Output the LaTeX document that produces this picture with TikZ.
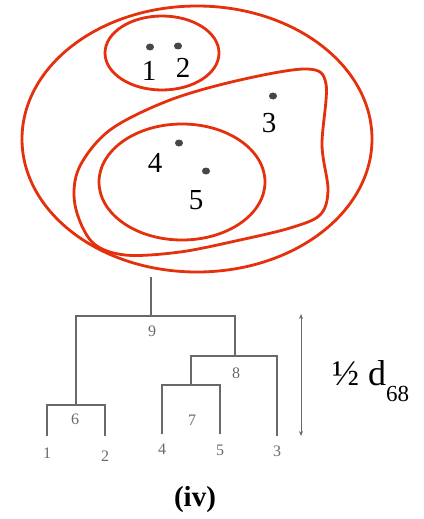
\documentclass[tikz,border=0pt]{standalone}
\usepackage{fontspec}
\setmainfont{Liberation Serif}
\usetikzlibrary{arrows.meta,shapes.geometric}
\definecolor{clusred}{RGB}{228,48,12}
\definecolor{dendgray}{RGB}{105,105,105}

\begin{document}
\begin{tikzpicture}[
    x=1pt, y=-1pt,
    clus/.style={draw=clusred, line width=2.8pt},
    pt/.style={ellipse, fill=black!72, minimum width=8pt, minimum height=7pt, inner sep=0pt},
    ptlab/.style={font=\fontsize{29}{29}\selectfont, inner sep=0pt},
    tree/.style={draw=dendgray, line width=1.3pt},
    tlab/.style={font=\fontsize{16}{16}\selectfont, text=dendgray, inner sep=0pt},
]
\useasboundingbox (0,0) rectangle (423,519);
% clusters
\draw[clus] (197,139) ellipse [x radius=175pt, y radius=133pt];
\draw[clus] (162,53) ellipse [x radius=57pt, y radius=37pt];
\draw[clus] (182,182) ellipse [x radius=83pt, y radius=58pt];
\draw[clus] plot[smooth cycle, tension=0.55] coordinates {
  (307,69) (326,84) (322,145) (328,190) (320,215) (290,228) (240,240)
  (180,252) (125,255) (92,242) (75,205) (79,168) (110,130) (170,100) (240,80)};
% points
\node[pt] (p1) at (150,47) {};
\node[pt] (p2) at (178,46) {};
\node[pt] (p3) at (273,96) {};
\node[pt] (p4) at (179,143) {};
\node[pt] (p5) at (206,171) {};
\node[ptlab] (n1) at (149,71) {1};
\node[ptlab] (n2) at (183,68) {2};
\node[ptlab] (n3) at (269,123) {3};
\node[ptlab] (n4) at (155,163) {4};
\node[ptlab] (n5) at (196,200) {5};
% dendrogram
\coordinate (root) at (151,277);
\coordinate (c9) at (151,316);
\coordinate (c8) at (235,356);
\coordinate (c7) at (191,385);
\coordinate (c6) at (76,405);
\coordinate (l1) at (47,436);
\coordinate (l2) at (105,436);
\coordinate (l4) at (162,434);
\coordinate (l5) at (220,434);
\coordinate (l3) at (277,436);
\draw[tree] (l1) |- (c6) -| (l2);
\draw[tree] (l4) |- (c7) -| (l5);
\draw[tree] (c7) |- (c8) -| (l3);
\draw[tree] (c6) |- (c9) -| (c8);
\draw[tree] (c9) -- (root);
\node[tlab] (t9) at (152,331) {9};
\node[tlab] (t8) at (236,373) {8};
\node[tlab] (t7) at (192,420) {7};
\node[tlab] (t6) at (75,419) {6};
\node[tlab] (t1) at (47,453) {1};
\node[tlab] (t2) at (105,456) {2};
\node[tlab] (t4) at (162,449) {4};
\node[tlab] (t5) at (220,450) {5};
\node[tlab] (t3) at (277,451) {3};
% height arrow
\coordinate (htop) at (301,314);
\coordinate (hbot) at (301,436);
\draw[draw=dendgray, line width=0.9pt, {Stealth[length=5pt,width=4pt]}-{Stealth[length=5pt,width=4pt]}] (htop) -- (hbot);
\node[anchor=base west, inner sep=0pt, font=\fontsize{36}{36}\selectfont] (half) at (332,385)
  {½ d\raisebox{-16pt}{\fontsize{23}{23}\selectfont 68}};
\node[font=\fontsize{29}{29}\selectfont\bfseries, inner sep=0pt] (cap) at (195,500) {(iv)};
\end{tikzpicture}
\end{document}
